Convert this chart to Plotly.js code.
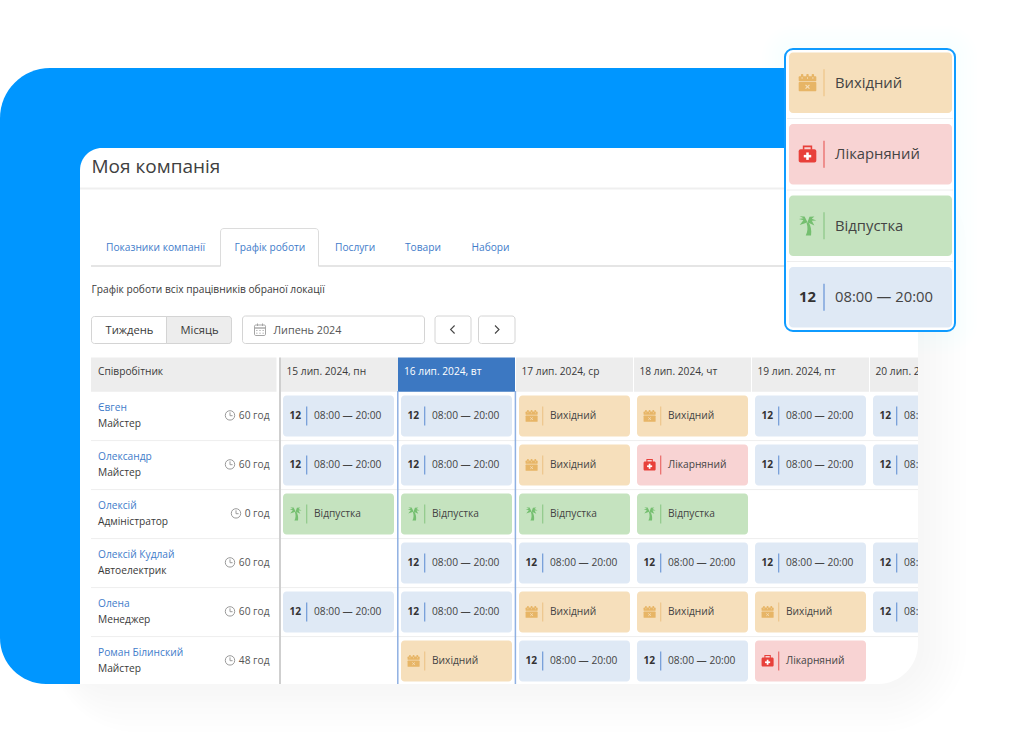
<!DOCTYPE html>
<html><head><meta charset="utf-8">
<script src="https://cdn.plot.ly/plotly-3.0.1.min.js"></script>
<style>html,body{margin:0;padding:0;background:#fff}#c{width:1016px;height:756px}</style>
</head><body><div id="c"></div>
<script>
const pageTitle = "Моя компанія";
const tabs = ["Показники компанії","Графік роботи","Послуги","Товари","Набори"];
const subtitle = "Графік роботи всіх працівників обраної локації";
const viewButtons = ["Тиждень","Місяць"];
const monthLabel = "Липень 2024";
const employeeHeader = "Співробітник";
const days = ["15 лип. 2024, пн","16 лип. 2024, вт","17 лип. 2024, ср","18 лип. 2024, чт","19 лип. 2024, пт","20 лип. 2024, сб"];
const employees = ["Євген","Олександр","Олексій","Олексій Кудлай","Олена","Роман Білинский"];
const roles = ["Майстер","Майстер","Адміністратор","Автоелектрик","Менеджер","Майстер"];
const hours = [60,60,0,60,60,48];
const hoursUnit = "год";
const shiftHours = "12";
const shiftTime = "08:00 — 20:00";
const statusLabels = {O:"Вихідний",S:"Лікарняний",V:"Відпустка"};
const schedule = [
  ["W","W","O","O","W","W"],
  ["W","W","O","S","W","W"],
  ["V","V","V","V","","" ],
  ["", "W","W","W","W","W"],
  ["W","W","O","O","O","W"],
  ["", "O","W","W","S","" ]
];
const legendOrder = ["O","S","V","W"];

// --- styling / layout ---
const FONT = '"Open Sans", sans-serif';
const DARK = "#3a3a3a", LINK = "#3f7cca";
const FILL = {W:"#dfe9f5",O:"#f6dfbb",S:"#f8d3d3",V:"#c5e3bf"};
const BAR  = {W:"#6f9ad8",O:"#eec68c",S:"#e96a68",V:"#8fc98a"};
const ICON = {O:"#e7b566",S:"#e8403a",V:"#75bf70"};
const TS = 10.2;   // table / page text size

function rr(x0,y0,x1,y1,r0,r1,r2,r3){ // tl,tr,br,bl
  if(r1===undefined){r1=r2=r3=r0;}
  const k=.45;
  return `M${x0+r0},${y0}L${x1-r1},${y0}C${x1-r1*k},${y0} ${x1},${y0+r1*k} ${x1},${y0+r1}`+
    `L${x1},${y1-r2}C${x1},${y1-r2*k} ${x1-r2*k},${y1} ${x1-r2},${y1}`+
    `L${x0+r3},${y1}C${x0+r3*k},${y1} ${x0},${y1-r3*k} ${x0},${y1-r3}`+
    `L${x0},${y0+r0}C${x0},${y0+r0*k} ${x0+r0*k},${y0} ${x0+r0},${y0}Z`;
}
const shapes=[];
function add(path,fill,o={}){
  shapes.push(Object.assign({type:"path",path,xref:o.t?"x2":"x",yref:o.t?"y2":"y",
    fillcolor:fill||"rgba(0,0,0,0)",line:{width:o.w||0,color:o.lc||"rgba(0,0,0,0)"},
    layer:o.top?"above":"below",opacity:o.op===undefined?1:o.op}));
}
function line(x0,y0,x1,y1,c,w,o={}){add(`M${x0},${y0}L${x1},${y1}`,null,Object.assign({},o,{w,lc:c}));}
function rect(x0,y0,x1,y1,f,o={}){add(`M${x0},${y0}L${x1},${y0}L${x1},${y1}L${x0},${y1}Z`,f,o);}

function iconCalendar(cx,cy,s,c,bg,o){
  add(rr(cx-9*s,cy-6.5*s,cx+9*s,cy-1.6*s,1*s),c,o);
  add(rr(cx-9*s,cy-.6*s,cx+9*s,cy+8.8*s,1*s),c,o);
  [-5.5,0,5.5].forEach(d=>{add(rr(cx+(d-1.2)*s,cy-8.8*s,cx+(d+1.2)*s,cy-3.8*s,.8*s),c,o);
     add(rr(cx+(d-.5)*s,cy-5.6*s,cx+(d+.5)*s,cy-4*s,.3*s),bg,o);});
  line(cx-2*s,cy+2.2*s,cx+2*s,cy+6*s,bg,Math.max(.7,1.2*s),o);
  line(cx+2*s,cy+2.2*s,cx-2*s,cy+6*s,bg,Math.max(.7,1.2*s),o);
}
function iconMedkit(cx,cy,s,c,o){
  add(rr(cx-9*s,cy-5*s,cx+9*s,cy+8.5*s,2*s),c,o);
  add(`M${cx-4*s},${cy-4.5*s}L${cx-4*s},${cy-8*s}L${cx+4*s},${cy-8*s}L${cx+4*s},${cy-4.5*s}`,null,Object.assign({},o,{w:1.6*s,lc:c}));
  rect(cx-3.8*s,cy+.7*s,cx+3.8*s,cy+3.3*s,"#fff",o);
  rect(cx-1.3*s,cy-1.8*s,cx+1.3*s,cy+5.8*s,"#fff",o);
}
function iconPalm(cx,cy,s,c,o){
  const p=(pts)=>"M"+pts.map(q=>`${cx+q[0]*s},${cy+q[1]*s}`).join("L")+"Z";
  add(`M${cx-1*s},${cy-3*s}C${cx+.6*s},${cy+2*s} ${cx+.2*s},${cy+6*s} ${cx-1.8*s},${cy+10*s}L${cx+3.6*s},${cy+10*s}C${cx+4.4*s},${cy+5*s} ${cx+3.4*s},${cy}  ${cx+1*s},${cy-3.5*s}Z`,c,o);
  add(p([[0,-3.6],[-3,-9.5],[-8,-9.6],[-4,-7.6],[-8.8,-6.8],[-4.2,-5.6],[-8,-.6],[-2.5,-2.4]]),c,o);
  add(p([[0,-3.6],[2,-9.2],[7,-9.4],[4.4,-7.2],[9,-5.2],[4.4,-5],[7,-.2],[2,-2.6]]),c,o);
}
function iconClock(cx,cy,r,o){
  add(`M${cx-r},${cy}C${cx-r},${cy-r*1.33} ${cx+r},${cy-r*1.33} ${cx+r},${cy}C${cx+r},${cy+r*1.33} ${cx-r},${cy+r*1.33} ${cx-r},${cy}Z`,null,Object.assign({},o,{w:1,lc:"#9a9a9a"}));
  add(`M${cx},${cy-r*.65}L${cx},${cy+.3}L${cx+r*.55},${cy+.3}`,null,Object.assign({},o,{w:1,lc:"#9a9a9a"}));
}

// soft shadows: panel casts mostly down and right; the card casts a very faint one
for(let i=1;i<=8;i++){const e=i*6;add(rr(70-e*.4,160,918+e,684+e,38+e),"#6f86b8",{op:.008});}
for(let i=1;i<=7;i++){const e=i*3.2;add(rr(784-e,48-e,955+e,332+e,8+e),"#6f86b8",{op:.0035});}
// blue block + white panel
add(rr(0,68,830,684,50,0,0,46),"#0096ff");
add(rr(80,148,918,684,22,20,40,0),"#ffffff");
rect(80,187.5,918,189.5,"#efefef");

// tabs
const tabX=[106,234.5,335,405,471.5];
line(91,266,220,266,"#dddddd",1.5);line(319,266,918,266,"#dddddd",1.5);
add(`M220.5,266.5L220.5,232C220.5,229.5 222,228.5 224,228.5L315,228.5C317,228.5 318.5,229.5 318.5,232L318.5,266.5`,"#ffffff",{w:1,lc:"#dcdcdc"});

// controls
add(rr(91.5,316.5,231.5,343.5,3),"#ffffff",{w:1,lc:"#d4d4d4"});
add(rr(166.5,316.5,231.5,343.5,0,3,3,0),"#ededed",{w:1,lc:"#d4d4d4"});
add(rr(242.5,316,424.5,343.5,3),"#ffffff",{w:1,lc:"#d4d4d4"});
add(rr(435,316,471,343.5,3),"#ffffff",{w:1,lc:"#d4d4d4"});
add(rr(478.5,316,515,343.5,3),"#ffffff",{w:1,lc:"#d4d4d4"});
add(rr(254.5,325,265.5,335.5,1.2),null,{w:1,lc:"#a5a5a5"});
line(254.5,328,265.5,328,"#a5a5a5",1.4);
line(257.5,323.5,257.5,326,"#a5a5a5",1);line(262.5,323.5,262.5,326,"#a5a5a5",1);
[256.8,260,263.2].forEach(x=>{[330.5,333.2].forEach(y=>line(x-.8,y,x+.8,y,"#bdbdbd",1));});
add("M454.6,325.5L450.6,329.5L454.6,333.5",null,{w:1.1,lc:"#444444"});
add("M495,325.5L499,329.5L495,333.5",null,{w:1.1,lc:"#444444"});

// table (own subplot: clipped at the panel's right edge)
const T={t:true};
const COLX=[280.5,397.5,515.5,633.5,751.5,869.5], COLW=118;
const rowCy=i=>416.2+49*i;
rect(91,357.5,276.5,391.7,"#ededed",T);
COLX.forEach((x,j)=>{rect(x+(j?.5:0),357.5,x+COLW-.5,391.7,j===1?"#3c78c2":"#ededed",T);});
employees.forEach((e,i)=>{ line(91,rowCy(i)+24.4,918,rowCy(i)+24.4,"#eeeeee",1,T); });
line(280,357.5,280,684,"#cfcfcf",2,T);
line(397.8,391,397.8,684,"#8fb0e2",1.5,T);
line(515.4,391,515.4,684,"#8fb0e2",1.5,T);

const cellX=j=>COLX[j]+(j?3.5:2.5);
schedule.forEach((row,i)=>row.forEach((st,j)=>{
  if(!st)return;
  const cx=cellX(j),cy=rowCy(i)-.3;
  add(rr(cx,cy-20.5,cx+111,cy+20.5,3.5),FILL[st],T);
  line(cx+23.7,cy-9.5,cx+23.7,cy+9.5,BAR[st],1.2,T);
  const s=.67,ix=cx+12.6;
  if(st==="O")iconCalendar(ix,cy,s,ICON.O,FILL.O,T);
  if(st==="S")iconMedkit(ix,cy,s,ICON.S,T);
  if(st==="V")iconPalm(ix,cy,s,ICON.V,T);
}));
hours.forEach((h,i)=>{
  const d=String(h).length;
  iconClock(d>1?230:236,rowCy(i)-.8,4.7,T);
});

// legend card (on top of everything)
const TOP={top:true};
add(rr(785,49,955,331,8),"#ffffff",{top:true,w:2,lc:"#0f9bff"});
const LEGY=[82.7,154.2,225.7,297.2];
legendOrder.forEach((st,k)=>{
  const cy=LEGY[k];
  add(rr(789,cy-30.3,952,cy+30.3,4),FILL[st],TOP);
  if(k<3)line(787,cy+35.8,953,cy+35.8,"#eeeeee",1,TOP);
  line(824,cy-13.5,824,cy+13.5,BAR[st],1.3,TOP);
  if(st==="O")iconCalendar(807.5,cy,.98,ICON.O,FILL.O,TOP);
  if(st==="S")iconMedkit(807.5,cy,.98,ICON.S,TOP);
  if(st==="V")iconPalm(807.5,cy,.98,ICON.V,TOP);
});
const annotations=legendOrder.flatMap((st,k)=>{
  const base={xref:"x",yref:"y",y:LEGY[k]-1,showarrow:false,yanchor:"middle",xanchor:"left",font:{family:FONT,size:14.8,color:"#444444"}};
  const label=st==="W"?shiftTime:statusLabels[st];
  const out=[Object.assign({},base,{x:832.8,text:label})];
  if(st==="W")out.push(Object.assign({},base,{x:796.6,text:"<b>"+shiftHours+"</b>",font:{family:FONT,size:14.8,color:"#333333"}}));
  return out;
});

// text traces
const txt=(xs,ys,ts,size,color,o={})=>Object.assign({type:"scatter",mode:"text",x:xs,y:ys.map(v=>v+(o.dy===undefined?1:o.dy)),text:ts,
  textposition:o.pos||"middle right",textfont:{family:FONT,size,color,weight:o.bold?700:400},
  hoverinfo:"skip",showlegend:false,cliponaxis:true,xaxis:o.t?"x2":"x",yaxis:o.t?"y2":"y"});
const traces=[
  txt([91.5],[167],[pageTitle],19,"#404040",{dy:1.5}),
  txt(tabX,tabs.map(()=>247.3),tabs,TS,LINK),
  txt([91.5],[290],[subtitle],TS,DARK,{dy:.5}),
  txt([105.5,180.5],[330,330],viewButtons,11.2,DARK),
  txt([273.5],[330],[monthLabel],10.8,"#555555"),
  txt([98],[371],[employeeHeader],TS,DARK,{t:true}),
  txt(COLX.map((x,j)=>x+(j===1?6.5:6)),days.map(()=>371),days,TS,DARK,{t:true}),
  txt(employees.map(()=>98),employees.map((e,i)=>rowCy(i)-9),employees,TS,LINK,{t:true}),
  txt(roles.map(()=>98),roles.map((e,i)=>rowCy(i)+7.3),roles,TS,DARK,{t:true}),
  txt(hours.map(()=>269.5),hours.map((h,i)=>rowCy(i)-1.2),hours.map(h=>h+" "+hoursUnit),TS,"#555555",{t:true,pos:"middle left"})
];
// active day header in white
traces[6].textfont.color=days.map((d,j)=>j===1?"#ffffff":DARK);
const nx=[],ny=[],lx=[],ly=[],lt=[];
schedule.forEach((row,i)=>row.forEach((st,j)=>{
  if(!st)return;
  if(st==="W"){nx.push(cellX(j)+6.4);ny.push(rowCy(i)-.5);}
  lx.push(cellX(j)+31);ly.push(rowCy(i)-.5);lt.push(st==="W"?shiftTime:statusLabels[st]);
}));
traces.push(txt(nx,ny,nx.map(()=>shiftHours),TS,"#333333",{t:true,bold:true}));
traces.push(txt(lx,ly,lt,TS,"#444444",{t:true}));

const ax=(range,domain,anchor)=>({range,domain,anchor,visible:false,fixedrange:true,showgrid:false,zeroline:false});
const layout={width:1016,height:756,margin:{l:0,r:0,t:0,b:0},paper_bgcolor:"#ffffff",plot_bgcolor:"rgba(0,0,0,0)",
  showlegend:false,shapes,annotations,
  xaxis:ax([0,1016],[0,1],"y"),yaxis:ax([756,0],[0,1],"x"),
  xaxis2:ax([0,918],[0,918/1016],"y2"),yaxis2:ax([684,0],[72/756,1],"x2")};
Plotly.newPlot("c",traces,layout,{staticPlot:true,displayModeBar:false});
</script></body></html>
